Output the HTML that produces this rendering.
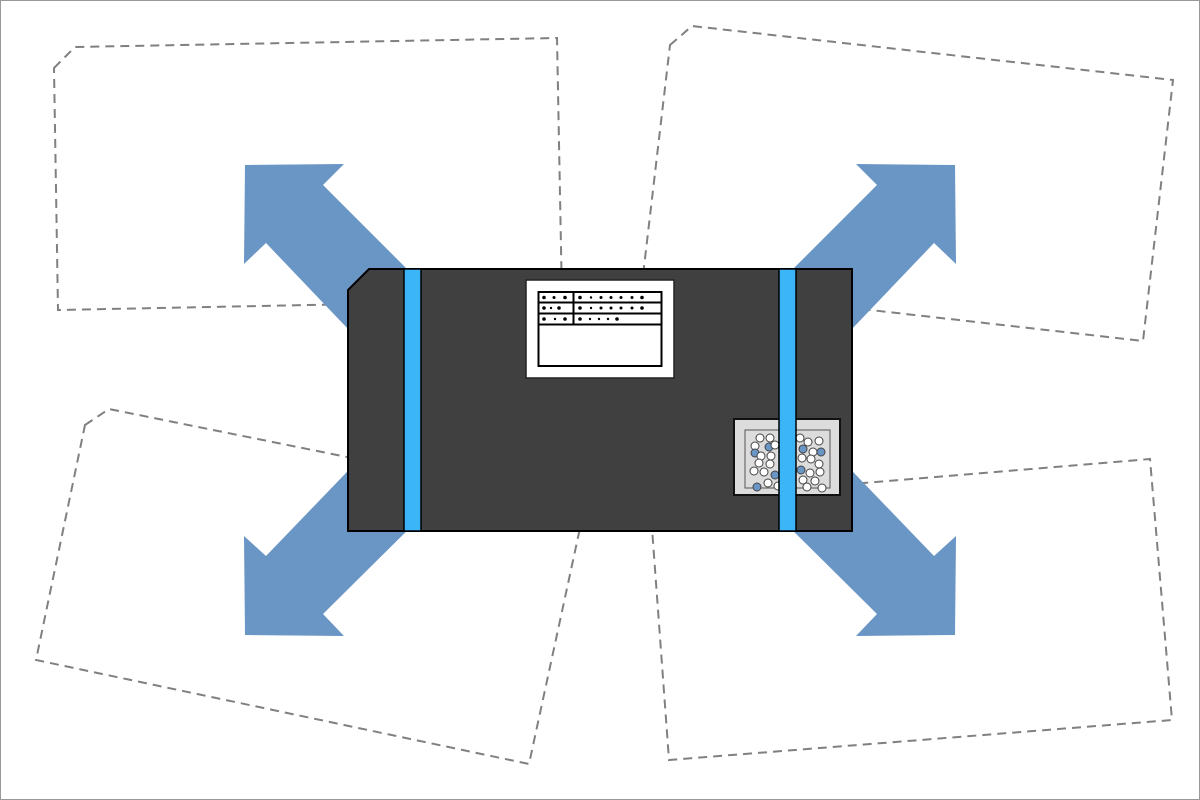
<!DOCTYPE html>
<html><head><style>html,body{margin:0;padding:0;background:#fff}svg{display:block}</style></head><body>
<svg width="1200" height="800" viewBox="0 0 1200 800" xmlns="http://www.w3.org/2000/svg">
<rect x="0.5" y="0.5" width="1199" height="799" fill="#fff" stroke="#999"/>
<g fill="none" stroke="#808080" stroke-width="2" stroke-dasharray="9,6">
<polygon points="54,68 75,47 557,38 562,300 58,310"/>
<polygon points="670,45 692,26 1173,80 1143,341 642,284"/>
<polygon points="85,425 109,409 585,505 529,764 36,660"/>
<polygon points="650,501 1150,459 1172,720 669,760"/>
</g>
<g fill="#6a96c6">
<polygon points="245,165 344,164 323,185 430,292 370,352 266,243 244,264"/>
<polygon points="955,165 856,164 877,185 770,292 830,352 934,243 956,264"/>
<polygon points="245,635 344,636 323,614 430,508 370,448 266,556 244,536"/>
<polygon points="955,635 856,636 877,614 770,508 830,448 934,556 956,536"/>
</g>
<polygon points="369,269 852,269 852,531 348,531 348,290" fill="#404040" stroke="#000" stroke-width="2"/>
<rect x="404" y="269" width="17" height="262" fill="#3cb4f8" stroke="#000" stroke-width="1.5"/>
<rect x="526" y="280" width="148" height="98" fill="#fff" stroke="#222" stroke-width="1.5"/>
<g stroke="#000" stroke-width="2" fill="none">
<rect x="538.5" y="292" width="123" height="74"/>
<line x1="538" y1="302.5" x2="662" y2="302.5"/>
<line x1="538" y1="313.5" x2="662" y2="313.5"/>
<line x1="538" y1="324.5" x2="662" y2="324.5"/>
<line x1="573.5" y1="292" x2="573.5" y2="324"/>
</g>
<g fill="#000">
<circle cx="544" cy="297.5" r="1.8"/><circle cx="554" cy="297.5" r="1.5"/><circle cx="565" cy="297.5" r="1.8"/>
<circle cx="580" cy="297.5" r="1.8"/><circle cx="591" cy="297.5" r="1.2"/><circle cx="601" cy="297.5" r="1.5"/><circle cx="611" cy="297.5" r="1.5"/><circle cx="621" cy="297.5" r="1.5"/><circle cx="632" cy="297.5" r="1.5"/><circle cx="642" cy="297.5" r="1.8"/>
<circle cx="544" cy="308" r="1.8"/><circle cx="551" cy="308" r="1.2"/><circle cx="559" cy="308" r="1.8"/>
<circle cx="580" cy="308" r="1.8"/><circle cx="591" cy="308" r="1.2"/><circle cx="601" cy="308" r="1.5"/><circle cx="611" cy="308" r="1.5"/><circle cx="621" cy="308" r="1.5"/><circle cx="632" cy="308" r="1.5"/><circle cx="642" cy="308" r="1.8"/>
<circle cx="544" cy="319" r="1.8"/><circle cx="555" cy="319" r="1.2"/><circle cx="565" cy="319" r="1.8"/>
<circle cx="580" cy="319" r="1.8"/><circle cx="590" cy="319" r="1.2"/><circle cx="599" cy="319" r="1.2"/><circle cx="608" cy="319" r="1.2"/><circle cx="617" cy="319" r="1.8"/>
</g>
<rect x="734" y="419" width="106" height="76" fill="#dcdcdc" stroke="#111" stroke-width="2"/>
<rect x="745" y="430" width="85" height="58" fill="#dcdcdc" stroke="#555" stroke-width="1"/>
<g stroke="#444" stroke-width="1" fill="#fff">
<circle cx="760" cy="438" r="4"/><circle cx="770" cy="438" r="4"/><circle cx="755" cy="446" r="4"/><circle cx="769" cy="447" r="4" fill="#6a96c6"/><circle cx="755" cy="453" r="4" fill="#6a96c6"/><circle cx="761" cy="456" r="4"/><circle cx="771" cy="456" r="4"/><circle cx="759" cy="463" r="4"/><circle cx="770" cy="464" r="4"/><circle cx="754" cy="471" r="4"/><circle cx="764" cy="472" r="4"/><circle cx="775" cy="475" r="4" fill="#6a96c6"/><circle cx="768" cy="483" r="4"/><circle cx="757" cy="487" r="4" fill="#6a96c6"/><circle cx="778" cy="486" r="4"/><circle cx="775" cy="445" r="4"/>
<circle cx="800" cy="438" r="4"/><circle cx="808" cy="442" r="4"/><circle cx="819" cy="441" r="4"/><circle cx="803" cy="449" r="4" fill="#6a96c6"/><circle cx="813" cy="452" r="4"/><circle cx="821" cy="452" r="4" fill="#6a96c6"/><circle cx="802" cy="458" r="4"/><circle cx="811" cy="459" r="4"/><circle cx="819" cy="464" r="4"/><circle cx="801" cy="470" r="4" fill="#6a96c6"/><circle cx="810" cy="473" r="4"/><circle cx="820" cy="472" r="4"/><circle cx="803" cy="480" r="4"/><circle cx="815" cy="481" r="4"/><circle cx="807" cy="487" r="4"/><circle cx="822" cy="488" r="4"/>
</g>
<rect x="779" y="269" width="17" height="262" fill="#3cb4f8" stroke="#000" stroke-width="1.5"/>
</svg>
</body></html>
